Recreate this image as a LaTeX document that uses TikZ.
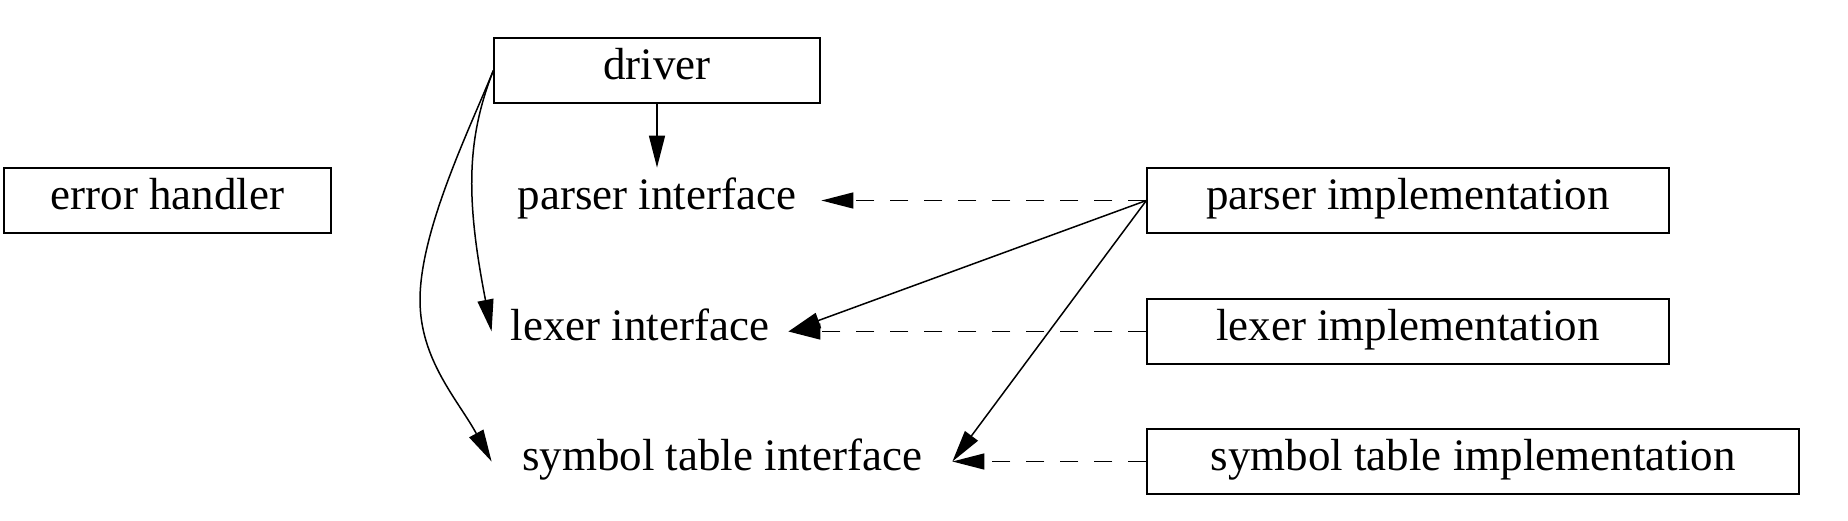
\documentclass[tikz,border=0pt]{standalone}
\usepackage{fontspec}
\setmainfont{Liberation Serif}
\usetikzlibrary{arrows.meta}

\begin{document}
\begin{tikzpicture}[x=0.5pt,y=-0.5pt,
  every node/.style={font=\fontsize{22.5}{27}\selectfont, inner sep=0pt,
    minimum height=32.5pt, text height=15.3pt, text depth=5.85pt},
  module/.style={draw, line width=0.65pt},
  uses/.style={-{Triangle[length=16pt,width=8pt]}, line width=0.75pt},
  realizes/.style={uses, dash pattern=on 9pt off 8pt}]
  \useasboundingbox (0,0) rectangle (1848,520);
  \node[module, minimum width=163pt] (driver) at (657,70.5) {driver};
  \node[module, minimum width=163.5pt] (err) at (167.5,200.5) {error handler};
  \node[minimum width=164pt] (parserif) at (657,200.5) {parser interface};
  \node[minimum width=148pt] (lexerif) at (640,331.5) {lexer interface};
  \node[minimum width=230pt] (symif) at (722,461.5) {symbol table interface};
  \node[module, minimum width=261pt] (parserimpl) at (1408,200.5) {parser implementation};
  \node[module, minimum width=261pt] (lexerimpl) at (1408,331.5) {lexer implementation};
  \node[module, minimum width=326pt] (symimpl) at (1473,461.5) {symbol table implementation};

  \draw[uses] (driver) -- (parserif);
  \draw[uses] (driver.west) .. controls (466,140) and (466,200) .. (lexerif.west);
  \draw[uses] (driver.west) .. controls (470,128) and (420,230) .. (420,300)
    .. controls (420,360) and (458,400) .. (symif.west);
  \draw[uses] (parserimpl.west) -- (lexerif.east);
  \draw[uses] (parserimpl.west) -- (symif.east);
  \draw[realizes] (parserimpl) -- (parserif);
  \draw[realizes] (lexerimpl) -- (lexerif);
  \draw[realizes] (symimpl) -- (symif);
\end{tikzpicture}
\end{document}
